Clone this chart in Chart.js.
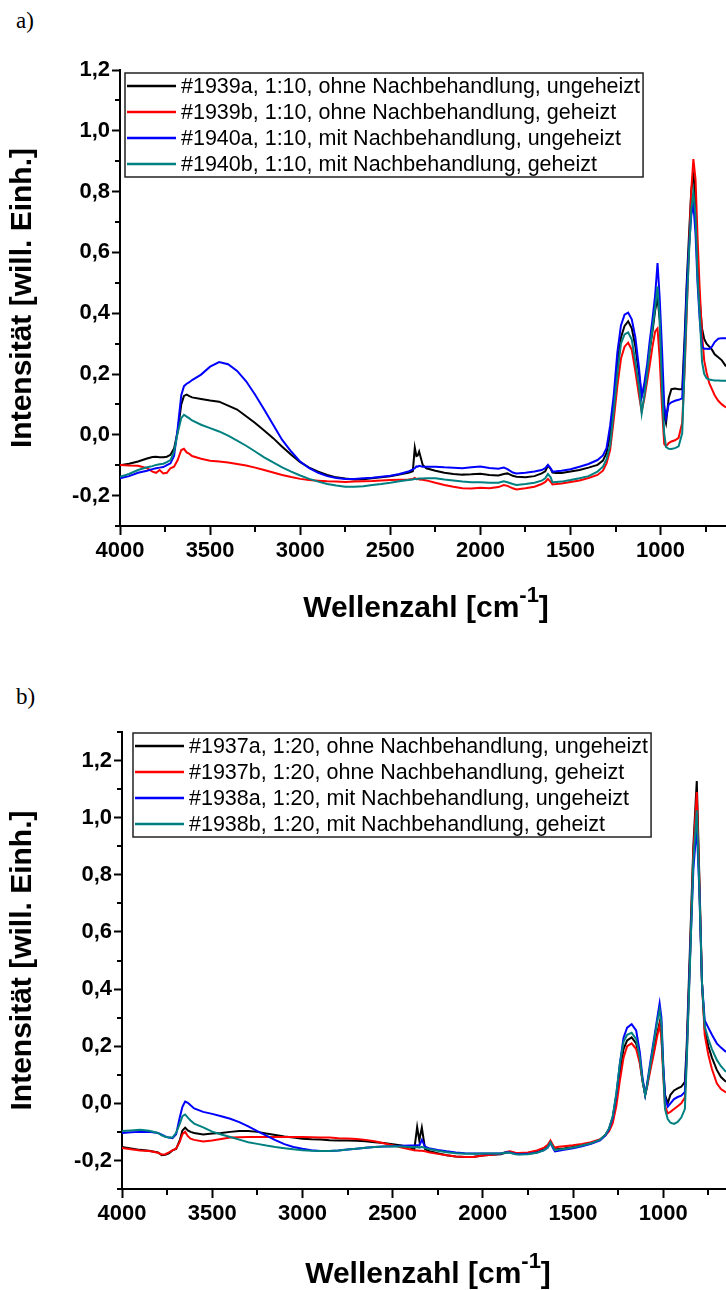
<!DOCTYPE html>
<html lang="de">
<head>
<meta charset="utf-8">
<title>IR-Spektren</title>
<script src="https://cdn.jsdelivr.net/npm/chart.js@4.4.1/dist/chart.umd.min.js"></script>
<style>
  html, body { margin: 0; padding: 0; background: #fff; overflow: hidden; }
  body { position: relative; width: 726px; height: 1290px; }
  canvas { position: absolute; left: 0; }
  #chart-a { top: 0; }
  #chart-b { top: 645px; }
  .panel { position: absolute; left: 16px; font: 23px/23px 'Liberation Serif', 'Times New Roman', serif; color: #000; }
</style>
</head>
<body>
<div class="panel" style="top:9px">a)</div>
<div class="panel" style="top:685px">b)</div>
<canvas id="chart-a" width="726" height="645"></canvas>
<canvas id="chart-b" width="726" height="645"></canvas>
<script>
'use strict';

// ─── Axes ─────────────────────────────────────────────────────────────────────

const xTicks      = [4000, 3500, 3000, 2500, 2000, 1500, 1000];
const xMinorTicks = [3750, 3250, 2750, 2250, 1750, 1250, 750];
const yTicks      = [-0.2, 0, 0.2, 0.4, 0.6, 0.8, 1.0, 1.2];
const yMinorA     = [-0.3, -0.1, 0.1, 0.3, 0.5, 0.7, 0.9, 1.1];
const yMinorB     = [-0.3, -0.1, 0.1, 0.3, 0.5, 0.7, 0.9, 1.1, 1.3];

// ─── Panel a: samples 1939 / 1940 (1:10) ─────────────────────────────────────

const labelsA = [
  '#1939a, 1:10, ohne Nachbehandlung, ungeheizt',
  '#1939b, 1:10, ohne Nachbehandlung, geheizt',
  '#1940a, 1:10, mit Nachbehandlung, ungeheizt',
  '#1940b, 1:10, mit Nachbehandlung, geheizt',
];

const waveA = [
  4000, 3950, 3900, 3850, 3820, 3800, 3780, 3760, 3740, 3720,
  3700, 3680, 3660, 3645, 3630, 3615, 3600, 3550, 3500, 3450,
  3400, 3350, 3300, 3250, 3200, 3150, 3100, 3050, 3000, 2950,
  2900, 2850, 2800, 2750, 2700, 2650, 2600, 2550, 2500, 2450,
  2400, 2375, 2364, 2355, 2348, 2340, 2320, 2300, 2250, 2200,
  2150, 2100, 2050, 2000, 1950, 1900, 1870, 1850, 1820, 1800,
  1750, 1700, 1660, 1640, 1625, 1610, 1600, 1580, 1550, 1500,
  1450, 1400, 1350, 1320, 1300, 1280, 1260, 1240, 1220, 1200,
  1180, 1160, 1140, 1120, 1105, 1090, 1075, 1060, 1045, 1030,
  1017, 1005, 992, 980, 970, 955, 940, 920, 900, 880,
  866, 855, 842, 830, 818, 806, 795, 783, 770, 758,
  745, 730, 715, 700, 680, 660, 637,
];

const s1939a = [
  -0.100, -0.095, -0.088, -0.078, -0.073, -0.072, -0.074, -0.074, -0.072, -0.066,
  -0.045, 0.010, 0.100, 0.128, 0.132, 0.127, 0.123, 0.118, 0.113, 0.109,
  0.096, 0.083, 0.061, 0.039, 0.014, -0.011, -0.039, -0.066, -0.090, -0.108,
  -0.121, -0.132, -0.140, -0.144, -0.147, -0.146, -0.143, -0.140, -0.136, -0.131,
  -0.125, -0.120, -0.042, -0.070, -0.068, -0.055, -0.099, -0.110, -0.118, -0.125,
  -0.129, -0.131, -0.130, -0.128, -0.132, -0.134, -0.129, -0.127, -0.135, -0.138,
  -0.140, -0.136, -0.127, -0.120, -0.101, -0.112, -0.124, -0.126, -0.126, -0.121,
  -0.116, -0.108, -0.099, -0.085, -0.060, 0.000, 0.090, 0.230, 0.320, 0.358,
  0.373, 0.350, 0.290, 0.200, 0.126, 0.160, 0.210, 0.280, 0.340, 0.410,
  0.450, 0.380, 0.200, 0.060, 0.038, 0.120, 0.150, 0.152, 0.150, 0.150,
  0.330, 0.500, 0.660, 0.800, 0.866, 0.760, 0.580, 0.440, 0.350, 0.315,
  0.300, 0.290, 0.280, 0.265, 0.255, 0.245, 0.225,
];

const s1939b = [
  -0.099, -0.101, -0.102, -0.110, -0.121, -0.125, -0.116, -0.127, -0.125, -0.110,
  -0.105, -0.083, -0.050, -0.046, -0.058, -0.063, -0.070, -0.079, -0.085, -0.088,
  -0.091, -0.096, -0.101, -0.108, -0.116, -0.124, -0.132, -0.139, -0.145, -0.149,
  -0.151, -0.153, -0.154, -0.155, -0.154, -0.153, -0.152, -0.150, -0.149, -0.148,
  -0.147, -0.145, -0.142, -0.146, -0.144, -0.147, -0.148, -0.150, -0.158, -0.165,
  -0.171, -0.176, -0.177, -0.174, -0.176, -0.172, -0.165, -0.168, -0.176, -0.180,
  -0.176, -0.171, -0.162, -0.155, -0.145, -0.155, -0.163, -0.162, -0.160, -0.155,
  -0.150, -0.142, -0.132, -0.118, -0.094, -0.050, 0.050, 0.160, 0.250, 0.290,
  0.303, 0.280, 0.210, 0.130, 0.077, 0.120, 0.175, 0.230, 0.290, 0.340,
  0.350, 0.250, 0.090, -0.030, -0.038, -0.027, -0.022, -0.018, -0.010, 0.040,
  0.220, 0.400, 0.620, 0.800, 0.907, 0.840, 0.650, 0.480, 0.330, 0.245,
  0.205, 0.170, 0.150, 0.130, 0.112, 0.100, 0.090,
];

const s1940a = [
  -0.143, -0.136, -0.125, -0.118, -0.113, -0.110, -0.108, -0.106, -0.100, -0.094,
  -0.070, 0.020, 0.130, 0.160, 0.168, 0.173, 0.180, 0.198, 0.224, 0.239,
  0.232, 0.210, 0.176, 0.132, 0.083, 0.033, -0.017, -0.055, -0.088, -0.110,
  -0.125, -0.136, -0.142, -0.145, -0.145, -0.143, -0.141, -0.138, -0.135, -0.129,
  -0.121, -0.114, -0.110, -0.104, -0.105, -0.102, -0.105, -0.105, -0.105, -0.107,
  -0.108, -0.110, -0.107, -0.104, -0.109, -0.112, -0.108, -0.113, -0.124, -0.127,
  -0.125, -0.121, -0.116, -0.110, -0.099, -0.110, -0.121, -0.120, -0.118, -0.113,
  -0.105, -0.096, -0.083, -0.068, -0.044, 0.030, 0.130, 0.270, 0.360, 0.395,
  0.402, 0.380, 0.320, 0.220, 0.126, 0.170, 0.230, 0.310, 0.380, 0.460,
  0.565, 0.450, 0.280, 0.100, 0.055, 0.100, 0.107, 0.112, 0.115, 0.120,
  0.300, 0.480, 0.620, 0.720, 0.760, 0.660, 0.500, 0.380, 0.290, 0.283,
  0.283, 0.282, 0.290, 0.305, 0.316, 0.318, 0.318,
];

const s1940b = [
  -0.138, -0.129, -0.116, -0.107, -0.103, -0.099, -0.097, -0.095, -0.090, -0.083,
  -0.055, 0.006, 0.055, 0.066, 0.060, 0.054, 0.047, 0.033, 0.022, 0.011,
  -0.003, -0.019, -0.036, -0.055, -0.074, -0.091, -0.107, -0.121, -0.134, -0.145,
  -0.154, -0.162, -0.167, -0.171, -0.171, -0.169, -0.165, -0.162, -0.158, -0.153,
  -0.149, -0.147, -0.145, -0.146, -0.145, -0.144, -0.144, -0.143, -0.143, -0.147,
  -0.150, -0.154, -0.156, -0.156, -0.158, -0.158, -0.153, -0.156, -0.162, -0.165,
  -0.162, -0.158, -0.151, -0.143, -0.129, -0.140, -0.156, -0.155, -0.154, -0.149,
  -0.143, -0.136, -0.121, -0.105, -0.080, -0.035, 0.080, 0.200, 0.300, 0.330,
  0.337, 0.313, 0.240, 0.160, 0.071, 0.130, 0.200, 0.280, 0.350, 0.420,
  0.488, 0.380, 0.150, 0.005, -0.040, -0.046, -0.047, -0.044, -0.038, 0.005,
  0.240, 0.420, 0.600, 0.740, 0.800, 0.720, 0.520, 0.400, 0.240, 0.200,
  0.186, 0.182, 0.180, 0.179, 0.179, 0.178, 0.178,
];

// ─── Panel b: samples 1937 / 1938 (1:20) ─────────────────────────────────────

const labelsB = [
  '#1937a, 1:20, ohne Nachbehandlung, ungeheizt',
  '#1937b, 1:20, ohne Nachbehandlung, geheizt',
  '#1938a, 1:20, mit Nachbehandlung, ungeheizt',
  '#1938b, 1:20, mit Nachbehandlung, geheizt',
];

const waveB = [
  4000, 3950, 3900, 3850, 3800, 3780, 3760, 3740, 3720, 3700,
  3680, 3665, 3650, 3635, 3620, 3600, 3550, 3500, 3450, 3400,
  3350, 3300, 3250, 3200, 3150, 3100, 3050, 3000, 2950, 2900,
  2850, 2800, 2750, 2700, 2650, 2600, 2550, 2500, 2450, 2400,
  2380, 2364, 2352, 2338, 2320, 2300, 2250, 2200, 2150, 2100,
  2050, 2000, 1950, 1900, 1870, 1850, 1820, 1800, 1750, 1700,
  1660, 1640, 1625, 1610, 1600, 1580, 1550, 1500, 1450, 1400,
  1350, 1320, 1300, 1280, 1260, 1240, 1220, 1200, 1175, 1150,
  1130, 1115, 1100, 1090, 1070, 1050, 1035, 1020, 1010, 1000,
  990, 975, 960, 940, 920, 900, 880, 870, 852, 833,
  814, 800, 785, 770, 750, 730, 703, 680, 652,
];

const s1937a = [
  -0.153, -0.158, -0.163, -0.166, -0.172, -0.182, -0.180, -0.175, -0.165, -0.160,
  -0.130, -0.095, -0.085, -0.095, -0.100, -0.104, -0.109, -0.106, -0.104, -0.100,
  -0.097, -0.097, -0.100, -0.106, -0.111, -0.116, -0.120, -0.124, -0.126, -0.127,
  -0.129, -0.130, -0.130, -0.131, -0.133, -0.136, -0.139, -0.143, -0.148, -0.155,
  -0.163, -0.083, -0.130, -0.085, -0.160, -0.167, -0.175, -0.182, -0.186, -0.188,
  -0.187, -0.183, -0.180, -0.178, -0.172, -0.170, -0.175, -0.176, -0.174, -0.168,
  -0.158, -0.148, -0.135, -0.150, -0.162, -0.160, -0.158, -0.153, -0.147, -0.140,
  -0.128, -0.110, -0.090, -0.050, 0.020, 0.110, 0.190, 0.220, 0.231, 0.210,
  0.150, 0.080, 0.030, 0.060, 0.130, 0.190, 0.240, 0.282, 0.240, 0.120,
  0.030, 0.000, 0.030, 0.045, 0.052, 0.058, 0.075, 0.200, 0.540, 0.900,
  1.128, 0.800, 0.420, 0.260, 0.200, 0.160, 0.117, 0.092, 0.075,
];

const s1937b = [
  -0.156, -0.161, -0.165, -0.167, -0.173, -0.179, -0.178, -0.172, -0.165, -0.158,
  -0.135, -0.108, -0.100, -0.115, -0.124, -0.128, -0.134, -0.130, -0.125, -0.120,
  -0.119, -0.118, -0.118, -0.118, -0.118, -0.118, -0.118, -0.118, -0.119, -0.120,
  -0.120, -0.122, -0.123, -0.125, -0.128, -0.133, -0.140, -0.147, -0.155, -0.162,
  -0.164, -0.165, -0.166, -0.166, -0.168, -0.171, -0.177, -0.182, -0.186, -0.188,
  -0.188, -0.183, -0.180, -0.177, -0.170, -0.168, -0.173, -0.174, -0.172, -0.165,
  -0.155, -0.145, -0.130, -0.148, -0.155, -0.152, -0.150, -0.147, -0.142, -0.136,
  -0.126, -0.112, -0.098, -0.070, -0.010, 0.080, 0.160, 0.200, 0.210, 0.190,
  0.140, 0.080, 0.030, 0.055, 0.120, 0.180, 0.230, 0.274, 0.230, 0.100,
  -0.010, -0.035, -0.030, -0.020, -0.010, 0.000, 0.020, 0.160, 0.500, 0.880,
  1.090, 0.780, 0.420, 0.240, 0.170, 0.120, 0.070, 0.050, 0.038,
];

const s1938a = [
  -0.104, -0.101, -0.100, -0.100, -0.104, -0.110, -0.116, -0.120, -0.122, -0.108,
  -0.050, -0.012, 0.006, 0.002, -0.007, -0.018, -0.030, -0.037, -0.045, -0.054,
  -0.066, -0.081, -0.097, -0.113, -0.129, -0.143, -0.153, -0.159, -0.164, -0.167,
  -0.167, -0.165, -0.162, -0.159, -0.156, -0.153, -0.151, -0.150, -0.149, -0.148,
  -0.148, -0.147, -0.148, -0.128, -0.152, -0.157, -0.163, -0.168, -0.172, -0.175,
  -0.176, -0.176, -0.176, -0.176, -0.171, -0.172, -0.177, -0.178, -0.177, -0.172,
  -0.164, -0.155, -0.138, -0.158, -0.168, -0.166, -0.163, -0.157, -0.150, -0.142,
  -0.130, -0.112, -0.090, -0.050, 0.030, 0.140, 0.230, 0.265, 0.277, 0.255,
  0.180, 0.090, 0.030, 0.065, 0.150, 0.230, 0.290, 0.350, 0.300, 0.140,
  0.020, -0.012, 0.000, 0.015, 0.022, 0.027, 0.040, 0.170, 0.500, 0.820,
  0.970, 0.750, 0.420, 0.290, 0.265, 0.240, 0.210, 0.195, 0.180,
];

const s1938b = [
  -0.097, -0.095, -0.093, -0.096, -0.104, -0.112, -0.117, -0.120, -0.120, -0.103,
  -0.072, -0.045, -0.039, -0.050, -0.060, -0.071, -0.084, -0.099, -0.109, -0.118,
  -0.127, -0.136, -0.142, -0.148, -0.153, -0.157, -0.161, -0.164, -0.166, -0.167,
  -0.167, -0.165, -0.162, -0.159, -0.156, -0.153, -0.151, -0.150, -0.151, -0.153,
  -0.154, -0.153, -0.155, -0.152, -0.157, -0.160, -0.166, -0.171, -0.175, -0.177,
  -0.177, -0.176, -0.176, -0.176, -0.172, -0.173, -0.178, -0.179, -0.178, -0.173,
  -0.164, -0.154, -0.137, -0.155, -0.164, -0.162, -0.160, -0.155, -0.148, -0.140,
  -0.127, -0.110, -0.087, -0.045, 0.035, 0.140, 0.215, 0.240, 0.247, 0.225,
  0.160, 0.080, 0.028, 0.060, 0.140, 0.220, 0.280, 0.327, 0.280, 0.120,
  -0.020, -0.055, -0.068, -0.072, -0.065, -0.050, -0.020, 0.140, 0.480, 0.850,
  1.026, 0.760, 0.420, 0.270, 0.225, 0.190, 0.152, 0.130, 0.110,
];

// ─── Style ────────────────────────────────────────────────────────────────────

const SERIES_COLORS = ['#000000', '#ff0000', '#0000ff', '#008080'];
const FONT_FAMILY   = "'Liberation Sans', Arial, Helvetica, sans-serif";
const TICK_FONT     = { family: FONT_FAMILY, size: 22, weight: 'bold' };

// ─── Helpers ──────────────────────────────────────────────────────────────────

function toPoints(wave, values) {
  return wave.map((w, i) => ({ x: w, y: values[i] }));
}

function fmtComma(v) {
  return v.toFixed(1).replace('.', ',');
}

function makeDatasets(labels, wave, series) {
  return series.map((values, i) => ({
    label: labels[i],
    data: toPoints(wave, values),
    borderColor: SERIES_COLORS[i],
    borderWidth: 2,
    pointRadius: 0,
    tension: 0,
    // later samples sit on top, as in the original plot
    order: series.length - i,
  }));
}

// Minor ticks, boxed legend and the x title with its superscript
const spectrumDecor = {
  id: 'spectrumDecor',
  afterDraw(chart, args, opts) {
    const { ctx, chartArea: area, scales: { x, y } } = chart;
    ctx.save();

    ctx.strokeStyle = '#000';
    ctx.lineWidth = 2;
    ctx.beginPath();
    xMinorTicks.forEach(v => {
      const px = Math.round(x.getPixelForValue(v));
      if (px > area.right) return;
      ctx.moveTo(px, area.bottom);
      ctx.lineTo(px, area.bottom + 6);
    });
    opts.yMinor.forEach(v => {
      const py = Math.round(y.getPixelForValue(v));
      ctx.moveTo(area.left, py);
      ctx.lineTo(area.left - 5, py);
    });
    ctx.stroke();

    // legend
    const sets = chart.data.datasets;
    ctx.font = `21.5px ${FONT_FAMILY}`;
    const textW = Math.max(...sets.map(d => ctx.measureText(d.label).width));
    const left = area.left + opts.legendDx;
    const top  = area.top + opts.legendDy;
    const rowH = 26;
    const boxW = 56 + textW + 3;
    const boxH = rowH * sets.length;
    ctx.fillStyle = '#fff';
    ctx.fillRect(left, top, boxW, boxH);
    ctx.lineWidth = 1.5;
    ctx.strokeStyle = '#222';
    ctx.strokeRect(left, top, boxW, boxH);
    ctx.textBaseline = 'middle';
    ctx.textAlign = 'left';
    sets.forEach((d, i) => {
      const cy = top + 13 + i * rowH;
      ctx.strokeStyle = d.borderColor;
      ctx.lineWidth = 2.5;
      ctx.beginPath();
      ctx.moveTo(left + 2, cy);
      ctx.lineTo(left + 51, cy);
      ctx.stroke();
      ctx.fillStyle = '#000';
      ctx.fillText(d.label, left + 56, cy + 1);
    });

    // x title: Wellenzahl [cm^-1]
    const mainFont = `bold 30px ${FONT_FAMILY}`;
    const supFont  = `bold 22px ${FONT_FAMILY}`;
    const main = 'Wellenzahl [cm', sup = '-1', close = ']';
    ctx.font = mainFont;
    const wMain = ctx.measureText(main).width;
    const wClose = ctx.measureText(close).width;
    ctx.font = supFont;
    const wSup = ctx.measureText(sup).width;
    let tx = area.left + opts.titleDx - (wMain + wSup + wClose) / 2;
    const base = area.bottom + opts.titleDy;
    ctx.textBaseline = 'alphabetic';
    ctx.fillStyle = '#000';
    ctx.font = mainFont;
    ctx.fillText(main, tx, base);
    tx += wMain;
    ctx.font = supFont;
    ctx.fillText(sup, tx, base - 15);
    tx += wSup;
    ctx.font = mainFont;
    ctx.fillText(close, tx, base);

    ctx.restore();
  },
};

// ─── Charts ───────────────────────────────────────────────────────────────────

function buildSpectrum(canvasId, cfg) {
  return new Chart(document.getElementById(canvasId), {
    type: 'line',
    data: { datasets: makeDatasets(cfg.labels, cfg.wave, cfg.series) },
    options: {
      responsive: false,
      animation: false,
      events: [],
      layout: { padding: { top: cfg.padTop, left: 0, right: 0, bottom: 0 } },
      plugins: {
        legend: { display: false },
        tooltip: { enabled: false },
        spectrumDecor: {
          yMinor: cfg.yMinor,
          legendDx: cfg.legendDx,
          legendDy: cfg.legendDy,
          titleDx: 306,
          titleDy: cfg.titleDy,
        },
      },
      scales: {
        x: {
          type: 'linear',
          reverse: true,
          min: cfg.xMin,
          max: 4000,
          afterBuildTicks: s => { s.ticks = xTicks.map(v => ({ value: v })); },
          afterFit: s => { s.height = cfg.xAxisHeight; },
          ticks: {
            callback: v => String(v),
            font: TICK_FONT,
            color: '#000',
            padding: 3,
            autoSkip: false,
            maxRotation: 0,
          },
          grid: {
            drawOnChartArea: false,
            drawTicks: true,
            tickLength: 9,
            tickWidth: 2,
            tickColor: '#000',
          },
          border: { display: true, color: '#000', width: 2 },
        },
        y: {
          type: 'linear',
          min: -0.3,
          max: cfg.yMax,
          afterBuildTicks: s => { s.ticks = yTicks.map(v => ({ value: v })); },
          afterFit: s => { s.width = cfg.yAxisWidth; },
          ticks: {
            callback: v => fmtComma(v),
            font: TICK_FONT,
            color: '#000',
            padding: 2,
          },
          grid: {
            drawOnChartArea: false,
            drawTicks: true,
            tickLength: 8,
            tickWidth: 2,
            tickColor: '#000',
          },
          border: { display: true, color: '#000', width: 2 },
          title: {
            display: true,
            text: 'Intensität [will. Einh.]',
            font: { family: FONT_FAMILY, size: 30, weight: 'bold' },
            color: '#000',
            padding: { top: 5, bottom: 0 },
          },
        },
      },
    },
    plugins: [spectrumDecor],
  });
}

buildSpectrum('chart-a', {
  labels: labelsA,
  wave: waveA,
  series: [s1939a, s1939b, s1940a, s1940b],
  xMin: 637,
  yMax: 1.2,
  yMinor: yMinorA,
  padTop: 70,
  xAxisHeight: 119,
  yAxisWidth: 120,
  legendDx: 5,
  legendDy: 3,
  titleDy: 91,
});

buildSpectrum('chart-b', {
  labels: labelsB,
  wave: waveB,
  series: [s1937a, s1937b, s1938a, s1938b],
  xMin: 652,
  yMax: 1.3,
  yMinor: yMinorB,
  padTop: 87,
  xAxisHeight: 101,
  yAxisWidth: 122,
  legendDx: 11,
  legendDy: 1,
  titleDy: 94,
});
</script>
</body>
</html>
